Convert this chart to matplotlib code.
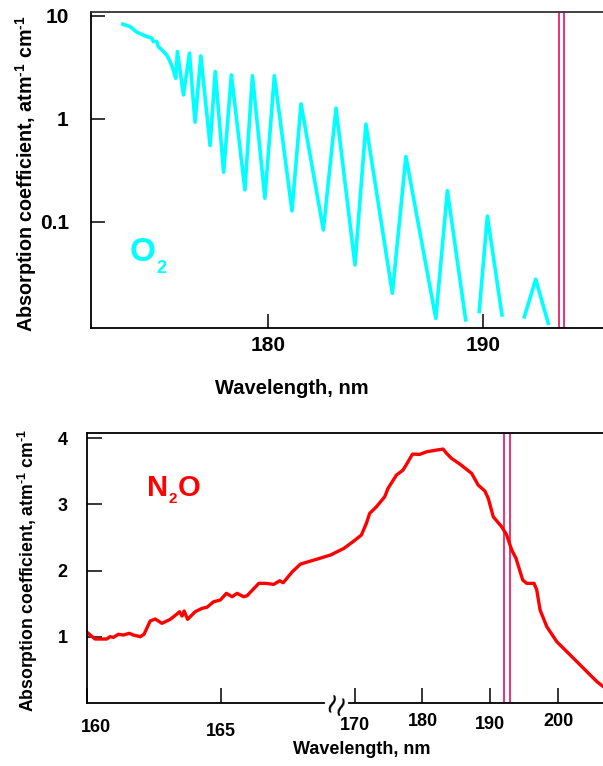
# -*- coding: utf-8 -*-
"""
O2 and N2O absorption coefficients near the 193 nm line
"""

import numpy as np
import matplotlib
matplotlib.use('Agg')
import matplotlib.pyplot as plt
from matplotlib.ticker import NullLocator

plt.rcParams['font.family'] = ['Liberation Sans', 'DejaVu Sans']
plt.rcParams['font.weight'] = 'bold'
plt.rcParams['mathtext.fontset'] = 'custom'
plt.rcParams['mathtext.rm'] = 'Liberation Sans:bold'
plt.rcParams['mathtext.bf'] = 'Liberation Sans:bold'
plt.rcParams['mathtext.default'] = 'bf'

# O2 Schumann-Runge bands (nan = gap where curve leaves the axis)
o2_wavelength = [173.23, 173.57, 173.88, 174.34, 174.58, 174.65, 174.81, 174.88,
                 175.04, 175.27, 175.43, 175.58, 175.69, 175.77, 176.05, 176.33,
                 176.59, 176.86, 177.29, 177.53, 177.92, 178.28, 178.91, 179.26,
                 179.84, 180.28, 181.10, 181.52, 182.56, 183.15, 184.03, 184.54,
                 185.77, 186.40, 187.79, 188.33, 189.18, np.nan,
                 189.81, 190.19, 190.87, np.nan,
                 191.91, 192.44, 193.02]
o2_absorption = [8.31, 7.87, 6.95, 6.30, 6.07, 5.63, 5.63, 5.03,
                 4.68, 4.18, 3.60, 2.99, 2.48, 4.50, 1.71, 4.34,
                 0.929, 4.09, 0.551, 2.88, 0.304, 2.67, 0.205, 2.62,
                 0.170, 2.62, 0.128, 1.40, 0.0836, 1.27, 0.0383, 0.889,
                 0.0203, 0.431, 0.0116, 0.201, 0.0112, np.nan,
                 0.0135, 0.114, 0.0125, np.nan,
                 0.0120, 0.0278, 0.0104]

# N2O continuum
n2o_wavelength = [160.00, 160.30, 160.74, 160.86, 160.99, 161.17, 161.36, 161.58,
                  161.73, 161.99, 162.13, 162.36, 162.55, 162.80, 163.11, 163.36,
                  163.46, 163.55, 163.63, 163.76, 164.04, 164.30, 164.48, 164.73,
                  164.98, 165.21, 165.42, 165.61, 165.85, 165.98, 166.42, 166.67,
                  166.98, 167.20, 167.33, 167.67, 167.98, 168.48, 169.10, 169.60,
                  169.97, 170.99, 171.73, 172.22, 173.21, 174.43, 174.92, 176.16,
                  177.13, 177.73, 178.52, 179.60, 180.59, 182.07, 183.04, 183.55,
                  184.28, 185.51, 187.24, 188.21, 189.20, 189.69, 190.43, 191.67,
                  192.41, 193.15, 193.78, 194.77, 195.36, 196.44, 196.84, 197.33,
                  198.32, 199.79, 201.77, 203.73, 205.71, 206.65]
n2o_absorption = [1.068, 0.967, 0.967, 1.002, 0.992, 1.038, 1.027, 1.053,
                  1.027, 1.002, 1.038, 1.239, 1.269, 1.204, 1.264, 1.344,
                  1.379, 1.314, 1.390, 1.264, 1.379, 1.431, 1.446, 1.530,
                  1.556, 1.657, 1.606, 1.657, 1.606, 1.621, 1.808, 1.808,
                  1.793, 1.847, 1.817, 1.983, 2.100, 2.160, 2.236, 2.337,
                  2.447, 2.538, 2.715, 2.866, 2.965, 3.116, 3.243, 3.444,
                  3.520, 3.621, 3.761, 3.757, 3.796, 3.822, 3.837, 3.772,
                  3.696, 3.610, 3.470, 3.293, 3.202, 3.092, 2.814, 2.663,
                  2.538, 2.311, 2.186, 1.858, 1.808, 1.808, 1.707, 1.405,
                  1.153, 0.926, 0.725, 0.524, 0.322, 0.246]

o2_ticks = [180, 190]
o2_yticks = [0.1, 1, 10]
o2_yticklabels = ['0.1', '1', '10']
n2o_ticks = [160, 165, 170, 180, 190, 200]
n2o_yticks = [1, 2, 3, 4]

laser_o2 = (193.50, 193.76)
laser_n2o = (192.05, 192.94)

CYAN = '#00FFFF'
RED = '#FF0000'
PINK = '#E8226A'
YLABEL = r'Absorption coefficient, atm$^{\text{-}1}$ cm$^{\text{-}1}$'

# broken axis: 160-170 nm stretched, 170+ compressed
SQUEEZE = 6.77 / 26.7


def fwd(w):
    w = np.asarray(w, dtype=float)
    return np.where(w <= 170, w - 160, 10 + (w - 170) * SQUEEZE)


def inv(u):
    u = np.asarray(u, dtype=float)
    return np.where(u <= 10, u + 160, 170 + (u - 10) / SQUEEZE)


fig = plt.figure(figsize=(6.03, 7.66), dpi=100)

# ---------------- O2 panel ----------------
ax1 = fig.add_axes([91 / 603, 1 - 328 / 766, 512 / 603, 316 / 766])
ax1.plot(o2_wavelength, o2_absorption, color=CYAN, lw=2.6)
ax1.axvspan(laser_o2[0], laser_o2[1], fill=False, edgecolor=PINK, lw=1.3)
ax1.set_yscale('log')
ax1.set_xlim(171.75, 195.57)
ax1.set_ylim(0.00935, 10.9)
ax1.set_xticks(o2_ticks)
ax1.set_yticks(o2_yticks)
ax1.set_yticklabels(o2_yticklabels)
ax1.yaxis.set_minor_locator(NullLocator())
ax1.xaxis.set_minor_locator(NullLocator())
ax1.tick_params(axis='both', direction='in', length=10, width=1.1,
                labelsize=15, top=False, right=False)
ax1.tick_params(axis='x', pad=6)
ax1.tick_params(axis='y', pad=16)
ax1.spines['right'].set_visible(False)
for s in ['left', 'bottom', 'top']:
    ax1.spines[s].set_linewidth(1.3)
ax1.spines['top'].set_color('#333333')
ax1.set_xlabel('Wavelength, nm', fontsize=14.5, fontweight='bold', va='top')
ax1.xaxis.set_label_coords(0.393, -0.16)
ax1.set_ylabel(YLABEL, fontsize=14.2, fontweight='bold')
ax1.yaxis.set_label_coords(-0.102, 0.49)

t = ax1.text(174.17, 0.050, 'O', color=CYAN, fontsize=24, fontweight='bold',
             ha='center', va='center')
ax1.annotate('2', xy=(1.0, 0.0), xycoords=t, xytext=(0.5, -6),
             textcoords='offset points', color=CYAN, fontsize=13,
             fontweight='bold', ha='left', va='bottom')

# ---------------- N2O panel ----------------
ax2 = fig.add_axes([87 / 603, 1 - 703 / 766, 516 / 603, 270 / 766])
ax2.set_xscale('function', functions=(fwd, inv))
ax2.plot(n2o_wavelength, n2o_absorption, color=RED, lw=2.4)
ax2.axvspan(laser_n2o[0], laser_n2o[1], fill=False, edgecolor=PINK, lw=1.3)
ax2.set_xlim(160, 206.6)
ax2.set_ylim(0, 4.08)
ax2.set_xticks(n2o_ticks)
ax2.set_xticklabels([])
ax2.set_yticks(n2o_yticks)
ax2.xaxis.set_minor_locator(NullLocator())
ax2.tick_params(axis='both', direction='in', length=11, width=1.1,
                labelsize=13, top=False, right=False)
ax2.tick_params(axis='y', pad=14)
ax2.spines['right'].set_visible(False)
ax2.spines['bottom'].set_visible(False)
for s in ['left', 'top']:
    ax2.spines[s].set_linewidth(1.3)

# bottom axis line with the break mark
tr = ax2.get_xaxis_transform()
ax2.plot([160, 168.84], [0, 0], transform=tr, color='k', lw=1.3, clip_on=False)
ax2.plot([169.78, 206.6], [0, 0], transform=tr, color='k', lw=1.3, clip_on=False)
ax2.text(169.3, -0.015, '\u2240\u2240', transform=tr, fontsize=20, ha='center',
         va='center', family='DejaVu Sans', fontweight='normal', rotation=-20)

# staggered tick labels, as in the original figure
label_x = [160.35, 165, 170, 180, 190, 200]
label_drop = [-0.09, -0.105, -0.083, -0.07, -0.081, -0.07]
for w, lx, dy in zip(n2o_ticks, label_x, label_drop):
    ax2.text(lx, dy, str(w), transform=tr, fontsize=13, fontweight='bold',
             ha='center', va='center')

ax2.set_xlabel('Wavelength, nm', fontsize=13, fontweight='bold', va='top')
ax2.xaxis.set_label_coords(0.533, -0.14)
ax2.set_ylabel(YLABEL, fontsize=12.7, fontweight='bold')
ax2.yaxis.set_label_coords(-0.091, 0.49)

t2 = ax2.text(162.25, 3.255, 'N', color=RED, fontsize=21, fontweight='bold',
              ha='left', va='center')
t3 = ax2.annotate('2', xy=(1.0, 0.0), xycoords=t2, xytext=(0.3, -3.5),
                  textcoords='offset points', color=RED, fontsize=11,
                  fontweight='bold', ha='left', va='bottom')
ax2.annotate('O', xy=(1.0, 0.0), xycoords=t3, xytext=(0.3, 3.5),
             textcoords='offset points', color=RED, fontsize=21,
             fontweight='bold', ha='left', va='bottom')

fig.savefig('out.png', dpi=100)
